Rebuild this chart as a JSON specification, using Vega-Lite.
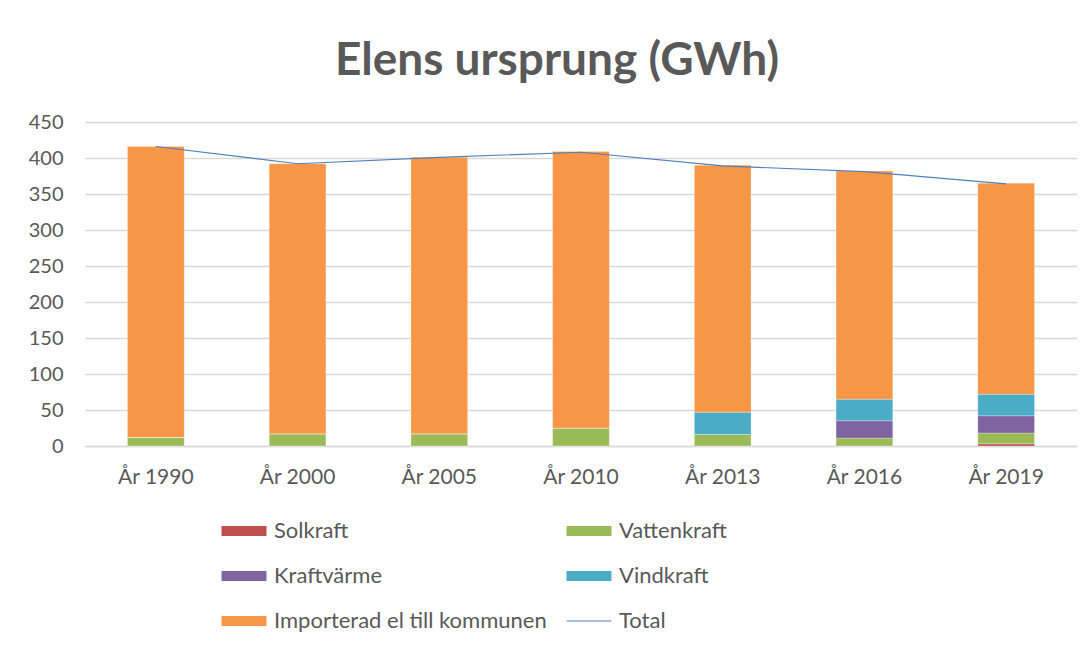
{
  "$schema": "https://vega.github.io/schema/vega-lite/v6.json",
  "autosize": "none",
  "width": 992,
  "height": 324,
  "padding": {"left": 85, "top": 122, "right": 14, "bottom": 202},
  "background": "white",
  "title": {
    "text": "Elens ursprung (GWh)",
    "fontSize": 46,
    "font": "Lato",
    "fontWeight": "bold",
    "color": "#595959",
    "anchor": "middle",
    "dx": -24,
    "offset": 27
  },
  "data": {
    "values": [
      {"year": "År 1990", "source": "Solkraft", "value": 0, "ord": 1},
      {"year": "År 1990", "source": "Vattenkraft", "value": 12, "ord": 2},
      {"year": "År 1990", "source": "Kraftvärme", "value": 0, "ord": 3},
      {"year": "År 1990", "source": "Vindkraft", "value": 0, "ord": 4},
      {"year": "År 1990", "source": "Importerad el till kommunen", "value": 404, "ord": 5},
      {"year": "År 1990", "source": "Total", "value": 416, "ord": 6},
      {"year": "År 2000", "source": "Solkraft", "value": 0, "ord": 1},
      {"year": "År 2000", "source": "Vattenkraft", "value": 17, "ord": 2},
      {"year": "År 2000", "source": "Kraftvärme", "value": 0, "ord": 3},
      {"year": "År 2000", "source": "Vindkraft", "value": 0, "ord": 4},
      {"year": "År 2000", "source": "Importerad el till kommunen", "value": 375, "ord": 5},
      {"year": "År 2000", "source": "Total", "value": 392, "ord": 6},
      {"year": "År 2005", "source": "Solkraft", "value": 0, "ord": 1},
      {"year": "År 2005", "source": "Vattenkraft", "value": 17, "ord": 2},
      {"year": "År 2005", "source": "Kraftvärme", "value": 0, "ord": 3},
      {"year": "År 2005", "source": "Vindkraft", "value": 0, "ord": 4},
      {"year": "År 2005", "source": "Importerad el till kommunen", "value": 384, "ord": 5},
      {"year": "År 2005", "source": "Total", "value": 401, "ord": 6},
      {"year": "År 2010", "source": "Solkraft", "value": 0, "ord": 1},
      {"year": "År 2010", "source": "Vattenkraft", "value": 25, "ord": 2},
      {"year": "År 2010", "source": "Kraftvärme", "value": 0, "ord": 3},
      {"year": "År 2010", "source": "Vindkraft", "value": 0, "ord": 4},
      {"year": "År 2010", "source": "Importerad el till kommunen", "value": 384, "ord": 5},
      {"year": "År 2010", "source": "Total", "value": 408, "ord": 6},
      {"year": "År 2013", "source": "Solkraft", "value": 0, "ord": 1},
      {"year": "År 2013", "source": "Vattenkraft", "value": 16, "ord": 2},
      {"year": "År 2013", "source": "Kraftvärme", "value": 0, "ord": 3},
      {"year": "År 2013", "source": "Vindkraft", "value": 31, "ord": 4},
      {"year": "År 2013", "source": "Importerad el till kommunen", "value": 343, "ord": 5},
      {"year": "År 2013", "source": "Total", "value": 389, "ord": 6},
      {"year": "År 2016", "source": "Solkraft", "value": 0, "ord": 1},
      {"year": "År 2016", "source": "Vattenkraft", "value": 11, "ord": 2},
      {"year": "År 2016", "source": "Kraftvärme", "value": 24, "ord": 3},
      {"year": "År 2016", "source": "Vindkraft", "value": 30, "ord": 4},
      {"year": "År 2016", "source": "Importerad el till kommunen", "value": 317, "ord": 5},
      {"year": "År 2016", "source": "Total", "value": 381, "ord": 6},
      {"year": "År 2019", "source": "Solkraft", "value": 3, "ord": 1},
      {"year": "År 2019", "source": "Vattenkraft", "value": 15, "ord": 2},
      {"year": "År 2019", "source": "Kraftvärme", "value": 24, "ord": 3},
      {"year": "År 2019", "source": "Vindkraft", "value": 30, "ord": 4},
      {"year": "År 2019", "source": "Importerad el till kommunen", "value": 293, "ord": 5},
      {"year": "År 2019", "source": "Total", "value": 364, "ord": 6}
    ]
  },
  "encoding": {
    "x": {
      "field": "year",
      "type": "nominal",
      "sort": null,
      "title": null,
      "scale": {"paddingInner": 0.6, "paddingOuter": 0.3},
      "axis": {
        "labelAngle": 0,
        "labelFont": "Lato",
        "labelFontSize": 21,
        "labelColor": "#595959",
        "labelPadding": 20,
        "ticks": false,
        "domainColor": "#d9d9d9",
        "domainWidth": 1.5
      }
    },
    "y": {
      "field": "value",
      "type": "quantitative",
      "title": null,
      "scale": {"domain": [0, 450], "nice": false},
      "axis": {
        "values": [0, 50, 100, 150, 200, 250, 300, 350, 400, 450],
        "labelFont": "Lato",
        "labelFontSize": 20,
        "labelColor": "#595959",
        "labelPadding": 22,
        "ticks": false,
        "domain": false,
        "gridColor": "#d9d9d9",
        "gridWidth": 1.5
      }
    },
    "color": {
      "field": "source",
      "type": "nominal",
      "scale": {
        "domain": ["Solkraft", "Kraftvärme", "Importerad el till kommunen", "Vattenkraft", "Vindkraft", "Total"],
        "range": ["#C0504D", "#8064A2", "#F79646", "#9BBB59", "#4BACC6", "#4F81BD"]
      },
      "legend": {
        "title": null,
        "orient": "none",
        "legendX": 148,
        "legendY": 398,
        "columns": 2,
        "columnPadding": 17,
        "rowPadding": 23,
        "labelFont": "Lato",
        "labelFontSize": 22,
        "labelColor": "#595959",
        "labelOffset": 19,
        "labelLimit": 400,
        "symbolSize": 2025,
        "symbolType": "M-1,-0.22H1V0.22H-1Z",
        "symbolStrokeWidth": 0,
        "encode": {
          "symbols": {
            "update": {
              "shape": {"signal": "datum.value === 'Total' ? 'M-1,0H1' : 'M-1,-0.22H1V0.22H-1Z'"},
              "fill": {"signal": "datum.value === 'Total' ? 'transparent' : scale('color', datum.value)"},
              "stroke": {"signal": "scale('color', datum.value)"},
              "strokeWidth": {"signal": "datum.value === 'Total' ? 1.2 : 0"},
              "opacity": {"value": 1}
            }
          }
        }
      }
    }
  },
  "layer": [
    {
      "transform": [{"filter": "datum.source !== 'Total'"}],
      "mark": {"type": "bar", "stroke": "white", "strokeWidth": 0.5, "strokeOpacity": 0.5},
      "encoding": {
        "order": {"field": "ord", "type": "quantitative"}
      }
    },
    {
      "transform": [{"filter": "datum.source === 'Total'"}],
      "mark": {"type": "line", "strokeWidth": 1.2},
      "encoding": {}
    }
  ],
  "config": {
    "view": {"stroke": null}
  }
}
